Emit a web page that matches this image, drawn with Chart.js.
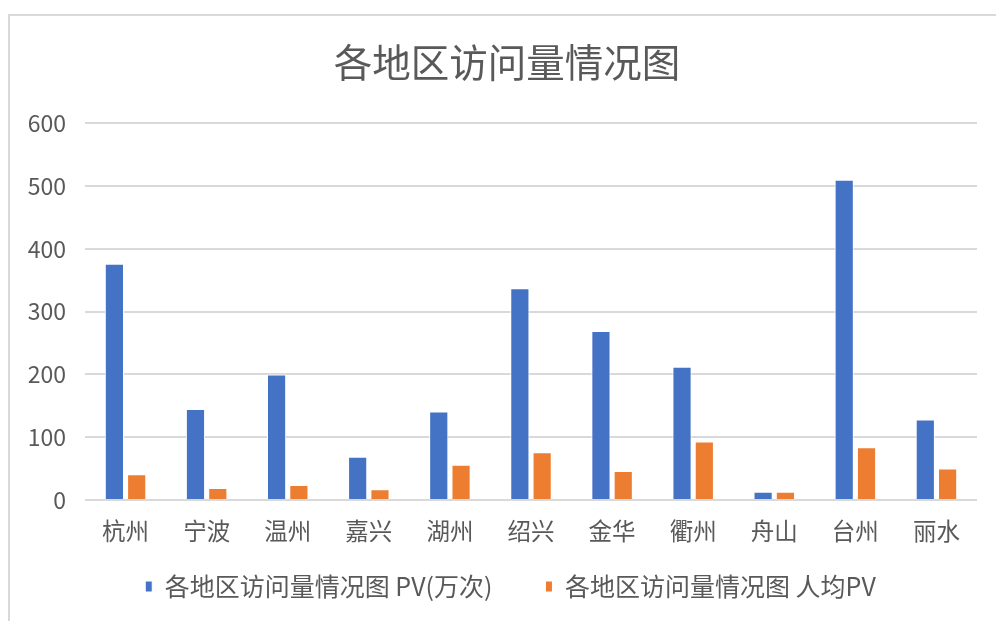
<!DOCTYPE html>
<html>
<head>
<meta charset="utf-8">
<script src="https://cdn.jsdelivr.net/npm/chart.js@4/dist/chart.umd.min.js"></script>
<style>
  html, body { margin: 0; padding: 0; background: #fff; }
  #wrap {
    position: absolute; left: 8px; top: 14px; width: 988px; height: 607px;
    border-left: 2px solid #d9d9d9; border-top: 2px solid #d9d9d9;
  }
  canvas { display: block; }
</style>
</head>
<body>
<div id="wrap"><canvas id="chart"></canvas></div>
<script>
// Data
const regions = ['杭州','宁波','温州','嘉兴','湖州','绍兴','金华','衢州','舟山','台州','丽水'];
const pvValues = [376, 145, 200, 69, 141, 337, 269, 212, 13, 510, 128];
const perCapitaPv = [41, 19, 24, 17, 56, 76, 46, 93, 13, 84, 50];
const seriesNames = ['各地区访问量情况图 PV(万次)', '各地区访问量情况图 人均PV'];
const chartTitle = '各地区访问量情况图';

const FONT = '"Noto Sans CJK SC", "Noto Sans", sans-serif';
const GREY = '#595959';

// nudge title and legend a bit to the right, like the original layout
const shiftBlocks = {
    id: 'shiftBlocks',
    afterLayout(chart) {
        if (chart.titleBlock) chart.titleBlock.left += 27;
        if (chart.legend) chart.legend.left += 34;
    }
};

const ctx = document.getElementById('chart').getContext('2d');
new Chart(ctx, {
    type: 'bar',
    data: {
        labels: regions,
        datasets: [
            { label: seriesNames[0], data: pvValues, backgroundColor: '#4472C4', borderColor: '#ffffff', borderWidth: 1 },
            { label: seriesNames[1], data: perCapitaPv, backgroundColor: '#ED7D31', borderColor: '#ffffff', borderWidth: 1 }
        ]
    },
    options: {
        responsive: true,
        maintainAspectRatio: false,
        animation: false,
        layout: { padding: { left: 0, right: 21, top: 0, bottom: 14 } },
        datasets: { bar: { categoryPercentage: 0.55, barPercentage: 0.86 } },
        plugins: {
            title: {
                display: true, text: chartTitle, color: GREY,
                font: { family: FONT, size: 38.5, weight: 'normal' },
                padding: { top: 23, bottom: 38 }
            },
            legend: {
                position: 'bottom',
                labels: {
                    color: GREY, boxWidth: 7, boxHeight: 11, padding: 28,
                    font: { family: FONT, size: 25 },
                    generateLabels: (chart) => {
                        const items = Chart.defaults.plugins.legend.labels.generateLabels(chart);
                        items[0].text += '\u3000';
                        return items;
                    }
                }
            },
            tooltip: { enabled: false }
        },
        scales: {
            x: {
                grid: { display: false },
                border: { display: false },
                ticks: { color: GREY, font: { family: FONT, size: 23.5 }, padding: 9 },
                afterFit: (scale) => { scale.height = 46; }
            },
            y: {
                min: 0, max: 600,
                ticks: { stepSize: 100, color: GREY, font: { family: FONT, size: 23 }, padding: 19 },
                grid: { color: '#d9d9d9', lineWidth: 2, drawTicks: false },
                border: { display: false },
                afterFit: (scale) => { scale.width = 75; }
            }
        }
    },
    plugins: [shiftBlocks]
});
</script>
</body>
</html>
